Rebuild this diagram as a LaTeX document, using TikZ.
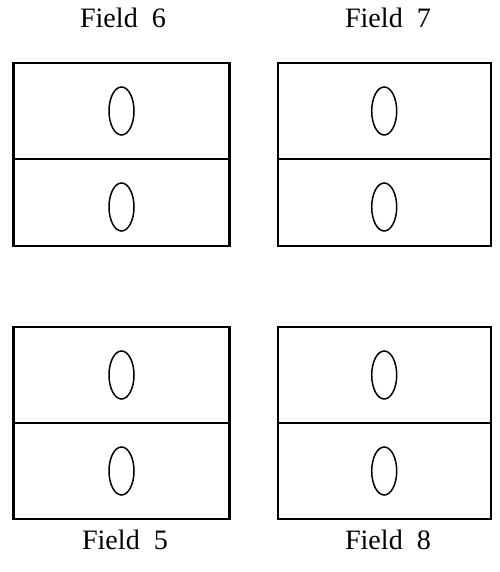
\documentclass[tikz,border=0pt]{standalone}
\usepackage{fontspec}
\setmainfont{Liberation Serif}
\usepackage{tikz}
\usetikzlibrary{positioning,shapes.geometric}

\begin{document}
\begin{tikzpicture}[
cell/.style={draw,line width=1.2pt,minimum width=4.32cm,minimum height=1.92cm,inner sep=0pt,outer sep=0pt},
halfcell/.style={cell,minimum height=1.74cm},
hole/.style={draw,ellipse,line width=0.85pt,minimum width=0.5cm,minimum height=0.96cm,inner sep=0pt},
fieldlbl/.style={font=\fontsize{16}{19}\selectfont,inner sep=0pt}]
\useasboundingbox (0,0) rectangle (9.98,11.44);
% upper row
\node[cell,anchor=north west] (f6a) at (0.27,10.18) {};
\node[halfcell,below=0pt of f6a] (f6b) {};
\node[cell,anchor=north west,minimum width=4.26cm] (f7a) at (5.554,10.18) {};
\node[halfcell,minimum width=4.26cm,below=0pt of f7a] (f7b) {};
% lower row
\node[cell,anchor=north west] (f5a) at (0.27,4.90) {};
\node[cell,below=0pt of f5a] (f5b) {};
\node[cell,anchor=north west,minimum width=4.26cm] (f8a) at (5.554,4.90) {};
\node[cell,minimum width=4.26cm,below=0pt of f8a] (f8b) {};
% ellipses
\node[hole] (h6a) at ([yshift=-0.96cm]f6a.north) {};
\node[hole] (h6b) at ([yshift=-0.96cm]f6b.north) {};
\node[hole] (h7a) at ([yshift=-0.96cm]f7a.north) {};
\node[hole] (h7b) at ([yshift=-0.96cm]f7b.north) {};
\node[hole] (h5a) at ([yshift=-0.96cm]f5a.north) {};
\node[hole] (h5b) at ([yshift=-0.96cm]f5b.north) {};
\node[hole] (h8a) at ([yshift=-0.96cm]f8a.north) {};
\node[hole] (h8b) at ([yshift=-0.96cm]f8b.north) {};
% labels
\node[fieldlbl] (l6) at (2.46,11.08) {Field~~6};
\node[fieldlbl] (l7) at (7.76,11.08) {Field~~7};
\node[fieldlbl] (l5) at (2.50,0.64) {Field~~5};
\node[fieldlbl] (l8) at (7.76,0.64) {Field~~8};
\end{tikzpicture}
\end{document}
